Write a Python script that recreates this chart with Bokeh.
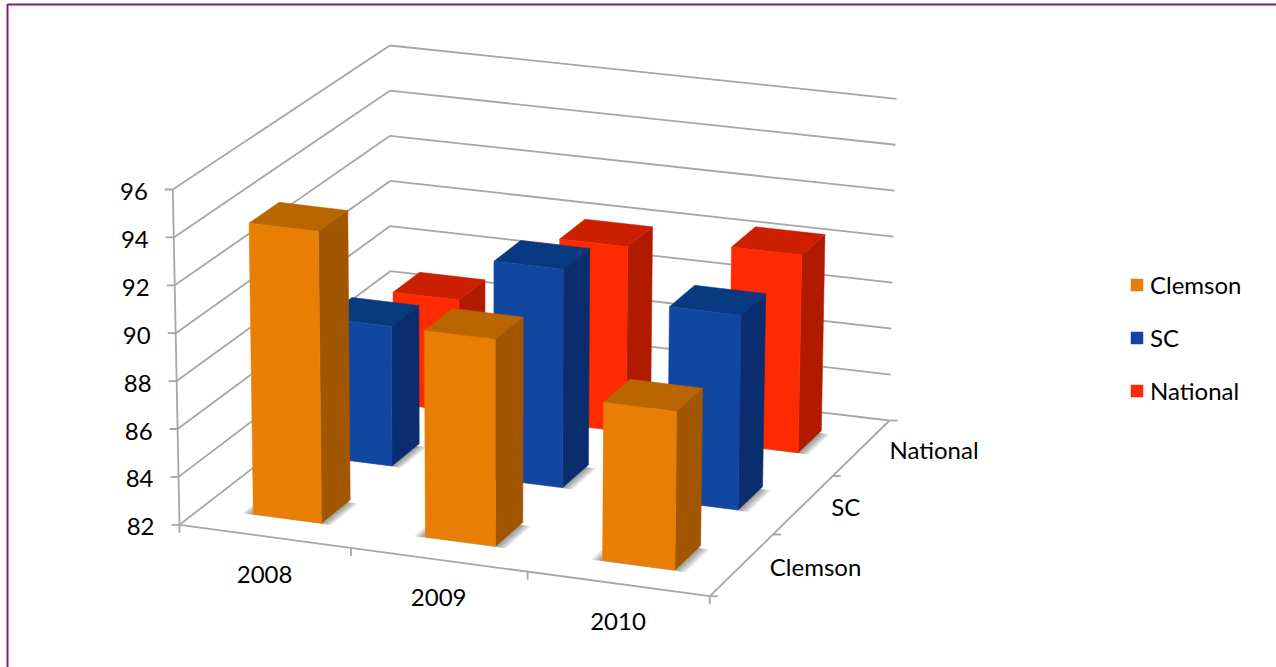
import numpy as np
from bokeh.embed import file_html
from bokeh.models import Legend, LegendItem, Range1d
from bokeh.plotting import figure
from bokeh.resources import INLINE
from bokeh.core.properties import value

years = ["2008", "2009", "2010"]
series_names = ["Clemson", "SC", "National"]
clemson = [94.2, 90.6, 88.55]
sc = [87.95, 91.25, 90.2]
national = [86.85, 90.0, 90.5]
value_ticks = [82, 84, 86, 88, 90, 92, 94, 96]

front_colors = ["#E87E04", "#1147A0", "#FF2A00"]
top_colors = ["#B96500", "#083A82", "#CB1F00"]
side_colors = ["#A35600", "#0A2D6F", "#B21A00"]
GRID = "#A6A6A6"
FONT = "Lato"
FS = "24px"

# ---- 3D projection (the chart's "scale"): floor and ceiling quads on screen
FLOOR = [(179, 524.3), (709.3, 595.7), (889, 420), (390, 361)]
CEIL = [(172.3, 189), (714, 254), (896, 98.3), (389.3, 45)]


def homography(q):
    src = [(0, 0), (1, 0), (1, 1), (0, 1)]
    A, b = [], []
    for (s, t), (x, y) in zip(src, q):
        A.append([s, t, 1, 0, 0, 0, -s * x, -t * x])
        b.append(x)
        A.append([0, 0, 0, s, t, 1, -s * y, -t * y])
        b.append(y)
    h = np.linalg.solve(np.array(A, float), np.array(b, float))
    return np.append(h, 1).reshape(3, 3)


HF, HC = homography(FLOOR), homography(CEIL)


def _ap(H, s, t):
    w = H @ np.array([s, t, 1.0])
    return w[:2] / w[2]


def proj(u, v, val):
    """u: category axis 0..3, v: series axis 0..3, val: value axis 82..96"""
    f = _ap(HF, u / 3, v / 3)
    c = _ap(HC, u / 3, v / 3)
    return f + (c - f) * (val - 82) / 14


BAR_U = 0.40
BAR_V = 0.40
BAR_SHIFT_U = 0.004

p = figure(width=1276, height=667, x_range=Range1d(0, 1276), y_range=Range1d(667, 0),
           output_backend="svg", toolbar_location=None, min_border=0,
           outline_line_color=None, background_fill_color="white",
           styles={"position": "absolute", "left": "0px", "top": "0px"})
p.axis.visible = False
p.grid.visible = False

# frame
p.line([7, 7, 1276], [667, 4, 4], line_color="#7F1A7F", line_width=2)


def seg(a, b, width=1.8):
    p.line([a[0], b[0]], [a[1], b[1]], line_color=GRID, line_width=width)


# walls
for tv in value_ticks:
    a, b, c = proj(0, 0, tv), proj(0, 3, tv), proj(3, 3, tv)
    seg(a, b)
    seg(b, c)
    seg(a, a - np.array([8, 0]))
    p.text([a[0] - 25], [a[1] + 2], text=[str(tv)], text_font=value(FONT), text_font_size=FS,
           text_color="black", text_align="right", text_baseline="middle")
seg(proj(0, 0, 82), proj(0, 0, 96))

# floor edges and ticks
seg(proj(0, 0, 82), proj(3, 0, 82))
seg(proj(3, 0, 82), proj(3, 3, 82))
for i in range(4):
    a = proj(i, 0, 82)
    seg(a, a + np.array([0, 8]))
for j in range(4):
    a = proj(3, j, 82)
    seg(a, a + np.array([8, 0]))

# category labels
for i, y in enumerate(years):
    a = proj(i + 0.5, 0, 82)
    p.text([a[0]], [a[1] + 38], text=[y], text_font=value(FONT), text_font_size=FS,
           text_color="black", text_align="center", text_baseline="middle")
for j, s in enumerate(series_names):
    a = proj(3, j + 0.5, 82)
    p.text([a[0] + 28], [a[1] + 2], text=[s], text_font=value(FONT), text_font_size=FS,
           text_color="black", text_align="left", text_baseline="middle")


def box(i, j, val):
    c = i + 0.5 + BAR_SHIFT_U
    u0, u1 = c - BAR_U / 2, c + BAR_U / 2
    v0, v1 = j + 0.5 - BAR_V / 2, j + 0.5 + BAR_V / 2
    return u0, u1, v0, v1, val


def face(pts):
    arr = np.array(pts)
    return list(arr[:, 0]), list(arr[:, 1])


all_values = [clemson, sc, national]

# soft floor shadows
for grow in [0.06, 0.048, 0.036, 0.024, 0.012]:
    xs, ys = [], []
    for j, vals in enumerate(all_values):
        for i, val in enumerate(vals):
            u0, u1, v0, v1, _ = box(i, j, val)
            x, y = face([proj(u0 - grow, v0 - grow * .2, 82), proj(u1 + grow, v0 - grow * .2, 82),
                         proj(u1 + grow, v1 - .04, 82), proj(u0 - grow, v1 - .04, 82)])
            xs.append(x)
            ys.append(y)
    p.patches(xs, ys, fill_color="#444444", fill_alpha=0.13, line_color=None)

front_renderers = []
for j in [2, 1, 0]:
    sx, sy, tx, ty, fx, fy = [], [], [], [], [], []
    for i, val in enumerate(all_values[j]):
        u0, u1, v0, v1, _ = box(i, j, val)
        x, y = face([proj(u1, v0, 82), proj(u1, v1, 82), proj(u1, v1, val), proj(u1, v0, val)])
        sx.append(x); sy.append(y)
        x, y = face([proj(u0, v0, val), proj(u1, v0, val), proj(u1, v1, val), proj(u0, v1, val)])
        tx.append(x); ty.append(y)
        x, y = face([proj(u0, v0, 82), proj(u1, v0, 82), proj(u1, v0, val), proj(u0, v0, val)])
        fx.append(x); fy.append(y)
    p.patches(sx, sy, fill_color=side_colors[j], line_color=side_colors[j], line_width=0.5)
    p.patches(tx, ty, fill_color=top_colors[j], line_color=top_colors[j], line_width=0.5)
    r = p.patches(fx, fy, fill_color=front_colors[j], line_color=front_colors[j], line_width=0.5)
    front_renderers.insert(0, r)

legend = Legend(items=[LegendItem(label=s, renderers=[r]) for s, r in zip(series_names, front_renderers)],
                location=(1129, 262), orientation="vertical", border_line_color=None,
                background_fill_alpha=0, padding=0, margin=0, spacing=24,
                glyph_width=15, glyph_height=15, label_standoff=6,
                label_text_font=FONT, label_text_font_size=FS, label_text_color="black",
                click_policy="none")
p.add_layout(legend, "center")

open("out.html", "w").write(file_html(p, INLINE))
